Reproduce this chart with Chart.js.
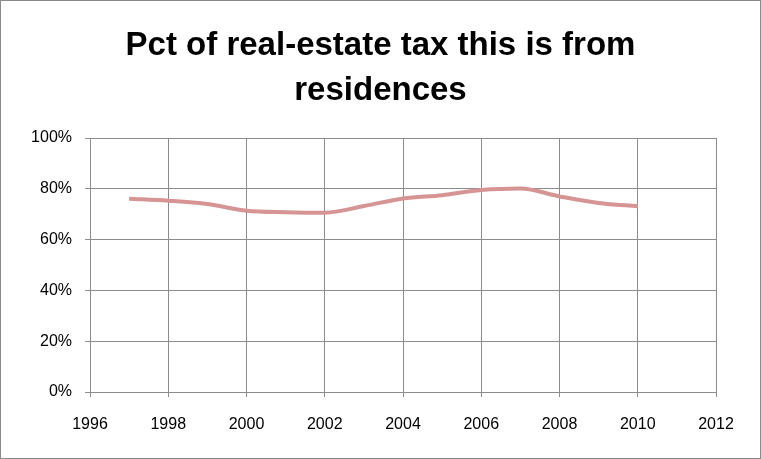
<!DOCTYPE html>
<html>
<head>
<meta charset="utf-8">
<script src="https://cdn.jsdelivr.net/npm/chart.js@4.4.1/dist/chart.umd.min.js"></script>
<style>
  html, body { margin: 0; padding: 0; background: #fff; }
  #wrap { position: relative; width: 759px; height: 457px; border: 1px solid #8a8a8a; }
</style>
</head>
<body>
<div id="wrap"><canvas id="chart"></canvas></div>
<script>
const years = [1997, 1998, 1999, 2000, 2001, 2002, 2003, 2004, 2005, 2006, 2007, 2008, 2009, 2010];
const residentialShare = [0.761, 0.753, 0.740, 0.714, 0.708, 0.706, 0.732, 0.762, 0.775, 0.795, 0.801, 0.770, 0.744, 0.731];
const titleLines = ["Pct of real-estate tax this is from", "residences"];

const gridColor = "#8c8c8c";
const tickFont = { family: "'Liberation Sans', Arial, sans-serif", size: 16 };

// title drawn centred on the whole canvas, like the spreadsheet original
const centredTitle = {
    id: "centredTitle",
    afterDraw(chart) {
        const ctx = chart.ctx;
        ctx.save();
        ctx.fillStyle = "#000";
        ctx.font = "bold 33px 'Liberation Sans', Arial, sans-serif";
        ctx.textAlign = "center";
        ctx.textBaseline = "middle";
        titleLines.forEach((line, i) => ctx.fillText(line, chart.width / 2, 45 + i * 45));
        ctx.restore();
    }
};

new Chart(document.getElementById("chart"), {
    type: "line",
    data: {
        datasets: [{
            data: years.map((y, i) => ({ x: y, y: residentialShare[i] })),
            borderColor: "#d69494",
            borderWidth: 4,
            pointRadius: 0,
            tension: 0.4,
            cubicInterpolationMode: "monotone",
            fill: false
        }]
    },
    options: {
        responsive: true,
        maintainAspectRatio: false,
        animation: false,
        layout: { padding: { left: 9, right: 44, top: 137, bottom: 0 } },
        plugins: {
            legend: { display: false },
            tooltip: { enabled: false },
            title: { display: false }
        },
        scales: {
            x: {
                type: "linear",
                min: 1996,
                max: 2012,
                ticks: { stepSize: 2, color: "#000", font: tickFont, padding: 18, maxRotation: 0, callback: v => String(v) },
                grid: { color: gridColor, lineWidth: 1, tickLength: 5 },
                border: { color: gridColor },
                afterFit: s => { s.height = 66; }
            },
            y: {
                min: 0,
                max: 1,
                ticks: { stepSize: 0.2, color: "#000", font: tickFont, padding: 13, callback: v => Math.round(v * 100) + "%" },
                grid: { color: gridColor, lineWidth: 1, tickLength: 5 },
                border: { color: gridColor },
                afterFit: s => { s.width = 80; }
            }
        }
    },
    plugins: [centredTitle]
});
</script>
</body>
</html>
